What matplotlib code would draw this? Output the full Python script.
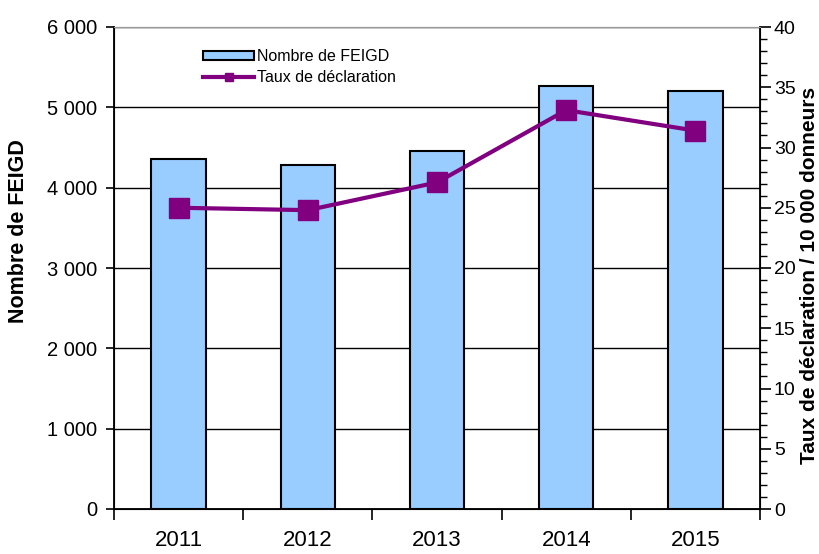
import numpy as np
import matplotlib
matplotlib.use("Agg")
import matplotlib.pyplot as plt
from matplotlib.ticker import FuncFormatter, MultipleLocator
from matplotlib.lines import Line2D

plt.rcParams['font.family'] = ['Liberation Sans', 'DejaVu Sans']

''' Data '''
years = ['2011', '2012', '2013', '2014', '2015']
nb_feigd = [4353, 4282, 4453, 5270, 5207]
taux = [25.0, 24.8, 27.1, 33.1, 31.4]

x = np.arange(len(years))

fig = plt.figure(figsize=(8.19, 5.54), dpi=100)
ax = fig.add_axes([114 / 819, 1 - 509 / 554, 646 / 819, 482 / 554])
ax2 = ax.twinx()

# bars + grid on the left axis
bars = ax.bar(x, nb_feigd, width=0.42, color='#99CCFF', edgecolor='black', linewidth=1.5,
              label='Nombre de FEIGD', zorder=2)
ax.set_xlim(-0.5, len(years) - 0.5)
ax.set_ylim(0, 6000)
ax.set_yticks(np.arange(0, 6001, 1000))
ax.yaxis.set_major_formatter(FuncFormatter(lambda v, p: f'{int(v):,}'.replace(',', ' ')))
ax.yaxis.grid(True, color='black', linewidth=1.0, zorder=0)
ax.set_axisbelow(True)

# category ticks sit between the bars
ax.set_xticks(np.arange(-0.5, len(years), 1.0))
ax.set_xticklabels([])
ax.set_xticks(x, minor=True)
ax.set_xticklabels(years, minor=True, fontsize=16)
ax.tick_params(axis='x', which='major', length=8, width=1.2, direction='out')
ax.tick_params(axis='x', which='minor', length=0, pad=15)
ax.tick_params(axis='y', length=6, width=1.2, labelsize=14.5, pad=6)
ax.set_ylabel('Nombre de FEIGD', fontsize=15.5, fontweight='bold')
ax.yaxis.set_label_coords((29 - 114) / 646, (509 - 231) / 482)

for s in ['left', 'bottom']:
    ax.spines[s].set_linewidth(1.3)
ax.spines['top'].set_color('#999999')

# rate line on right axis
ax2.plot(x, taux, color='#800080', linewidth=3, marker='s', markersize=14,
         label='Taux de déclaration', zorder=3)
ax2.set_ylim(0, 40)
ax2.yaxis.set_major_locator(MultipleLocator(5))
ax2.yaxis.set_minor_locator(MultipleLocator(1))
ax2.tick_params(axis='y', which='major', length=8, width=1.2, labelsize=14, pad=2)
ax2.tick_params(axis='y', which='minor', length=5, width=1.0)
ax2.set_ylabel('Taux de déclaration / 10 000 donneurs', fontsize=15, fontweight='bold')
ax2.yaxis.set_label_coords((800 - 114) / 646, (509 - 275) / 482)
ax2.spines['right'].set_linewidth(1.3)
ax2.spines['top'].set_color('#999999')

# legend with a smaller marker than the plotted one
leg_line = Line2D([], [], color='#800080', linewidth=3, marker='s', markersize=6)
ax2.legend([bars, leg_line], ['Nombre de FEIGD', 'Taux de déclaration'],
           loc='upper left', bbox_to_anchor=((203 - 114) / 646, (509 - 49) / 482),
           frameon=False, fontsize=11.5, handlelength=3.2, handleheight=0.55,
           handletextpad=0.15, labelspacing=0.4, borderaxespad=0, borderpad=0)

fig.savefig('out.png', dpi=100)
